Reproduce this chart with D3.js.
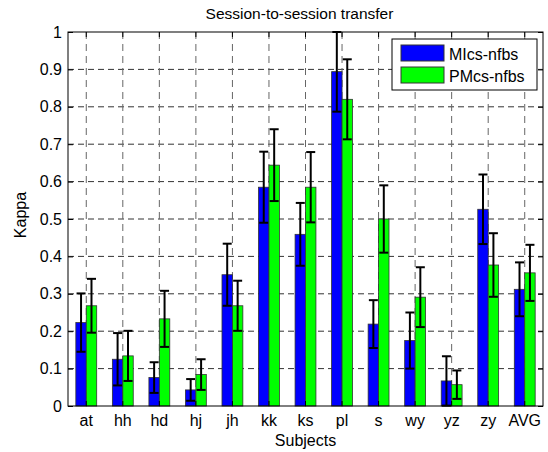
<!DOCTYPE html>
<html>
<head>
<meta charset="utf-8">
<script src="https://d3js.org/d3.v7.min.js"></script>
<style>
  body { margin: 0; background: #fff; }
  svg { display: block; font-family: "Liberation Sans", Arial, sans-serif; }
</style>
</head>
<body>
<script>
// Subjects on the x axis
const subjects = ["at", "hh", "hd", "hj", "jh", "kk", "ks", "pl", "s", "wy", "yz", "zy", "AVG"];
const seriesNames = ["MIcs-nfbs", "PMcs-nfbs"];
const seriesColors = ["#0000ff", "#00ff00"];

// mean kappa per subject
const mics = [0.223, 0.125, 0.076, 0.043, 0.351, 0.585, 0.459, 0.894, 0.219, 0.175, 0.067, 0.526, 0.312];
const pmcs = [0.268, 0.134, 0.233, 0.084, 0.268, 0.644, 0.585, 0.820, 0.500, 0.291, 0.057, 0.377, 0.356];
// error bar half-lengths
const micsErr = [0.078, 0.070, 0.041, 0.029, 0.083, 0.095, 0.084, 0.107, 0.064, 0.075, 0.066, 0.093, 0.072];
const pmcsErr = [0.072, 0.067, 0.075, 0.041, 0.067, 0.096, 0.094, 0.107, 0.090, 0.080, 0.038, 0.085, 0.075];

const yTicks = [0, 0.1, 0.2, 0.3, 0.4, 0.5, 0.6, 0.7, 0.8, 0.9, 1];

const W = 548, H = 452;
const margin = { top: 32, right: 5, bottom: 46, left: 68 };
const width = W - margin.left - margin.right;
const height = H - margin.top - margin.bottom;

const svg = d3.select("body").append("svg")
  .attr("width", W)
  .attr("height", H);

const g = svg.append("g")
  .attr("transform", `translate(${margin.left},${margin.top})`);

const x = d3.scaleBand().domain(subjects).range([0, width]).padding(0);
const barW = x.bandwidth() * 0.571 / 2;
const xSub = d3.scaleBand().domain([0, 1]).range([-barW, barW]);
const y = d3.scaleLinear().domain([0, 1]).range([height, 0]);

const rows = subjects.map((s, i) => ({
  subject: s,
  vals: [
    { k: 0, v: mics[i], e: micsErr[i] },
    { k: 1, v: pmcs[i], e: pmcsErr[i] }
  ]
}));

// grid lines (dashed)
g.append("g")
  .selectAll("line")
  .data(yTicks.slice(1, -1))
  .join("line")
  .attr("x1", 0).attr("x2", width)
  .attr("y1", d => y(d)).attr("y2", d => y(d))
  .attr("stroke", "#333").attr("stroke-width", 1)
  .attr("stroke-dasharray", "6,4");

g.append("g")
  .selectAll("line")
  .data(subjects)
  .join("line")
  .attr("x1", d => x(d) + x.bandwidth() / 2).attr("x2", d => x(d) + x.bandwidth() / 2)
  .attr("y1", 0).attr("y2", height)
  .attr("stroke", "#666").attr("stroke-width", 1)
  .attr("stroke-dasharray", "7,5");

// bars
const groups = g.append("g")
  .selectAll("g")
  .data(rows)
  .join("g")
  .attr("transform", d => `translate(${x(d.subject) + x.bandwidth() / 2},0)`);

groups.selectAll("rect")
  .data(d => d.vals)
  .join("rect")
  .attr("x", d => xSub(d.k))
  .attr("width", xSub.bandwidth())
  .attr("y", d => y(d.v))
  .attr("height", d => y(0) - y(d.v))
  .attr("fill", d => seriesColors[d.k])
  .attr("stroke", "#333")
  .attr("stroke-width", 0.8);

// error bars
const capW = 4.5;
const errs = groups.selectAll("g.err")
  .data(d => d.vals)
  .join("g")
  .attr("class", "err")
  .attr("stroke", "#000")
  .attr("stroke-width", 2);

const cx = d => xSub(d.k) + xSub.bandwidth() / 2;
const errTop = d => y(Math.min(1, d.v + d.e));
const errBot = d => y(d.v - d.e);
errs.append("line")
  .attr("x1", cx).attr("x2", cx)
  .attr("y1", errTop).attr("y2", errBot);
errs.append("line")
  .attr("x1", d => cx(d) - capW).attr("x2", d => cx(d) + capW)
  .attr("y1", errTop).attr("y2", errTop);
errs.append("line")
  .attr("x1", d => cx(d) - capW).attr("x2", d => cx(d) + capW)
  .attr("y1", errBot).attr("y2", errBot);

// axes (ticks inside, on all four sides like matlab)
const fontSize = "16px";
const yAxis = g.append("g")
  .call(d3.axisLeft(y).tickValues(yTicks).tickSize(-5).tickPadding(6).tickFormat(d => d));
const yAxisR = g.append("g")
  .attr("transform", `translate(${width},0)`)
  .call(d3.axisRight(y).tickValues(yTicks).tickSize(-5).tickFormat(""));
const xAxis = g.append("g")
  .attr("transform", `translate(0,${height})`)
  .call(d3.axisBottom(x).tickSize(-5).tickPadding(9));
const xAxisT = g.append("g")
  .call(d3.axisTop(x).tickSize(-5).tickFormat(""));

[yAxis, yAxisR, xAxis, xAxisT].forEach(a => {
  a.select(".domain").remove();
  a.selectAll("line").attr("stroke", "#000");
  a.selectAll("text").attr("font-size", fontSize).attr("fill", "#000")
    .attr("font-family", "Liberation Sans, Arial, sans-serif");
});

// frame
g.append("rect")
  .attr("width", width).attr("height", height)
  .attr("fill", "none").attr("stroke", "#000").attr("stroke-width", 1);

// labels
svg.append("text")
  .attr("x", margin.left + width / 2 - 6).attr("y", 19)
  .attr("text-anchor", "middle").attr("font-size", "15.5px")
  .text("Session-to-session transfer");

svg.append("text")
  .attr("x", margin.left + width / 2).attr("y", 446)
  .attr("text-anchor", "middle").attr("font-size", fontSize)
  .text("Subjects");

svg.append("text")
  .attr("transform", `translate(26,${margin.top + height / 2 - 4}) rotate(-90)`)
  .attr("text-anchor", "middle").attr("font-size", fontSize)
  .text("Kappa");

// legend
const leg = svg.append("g").attr("transform", "translate(392,39)");
leg.append("rect")
  .attr("width", 145).attr("height", 51)
  .attr("fill", "#fff").attr("stroke", "#000").attr("stroke-width", 1);
seriesNames.forEach((name, i) => {
  leg.append("rect")
    .attr("x", 9).attr("y", 6 + i * 22)
    .attr("width", 43).attr("height", 16)
    .attr("fill", seriesColors[i]).attr("stroke", "#333");
  leg.append("text")
    .attr("x", 57).attr("y", 20.5 + i * 22)
    .attr("font-size", fontSize)
    .text(name);
});
</script>
</body>
</html>
